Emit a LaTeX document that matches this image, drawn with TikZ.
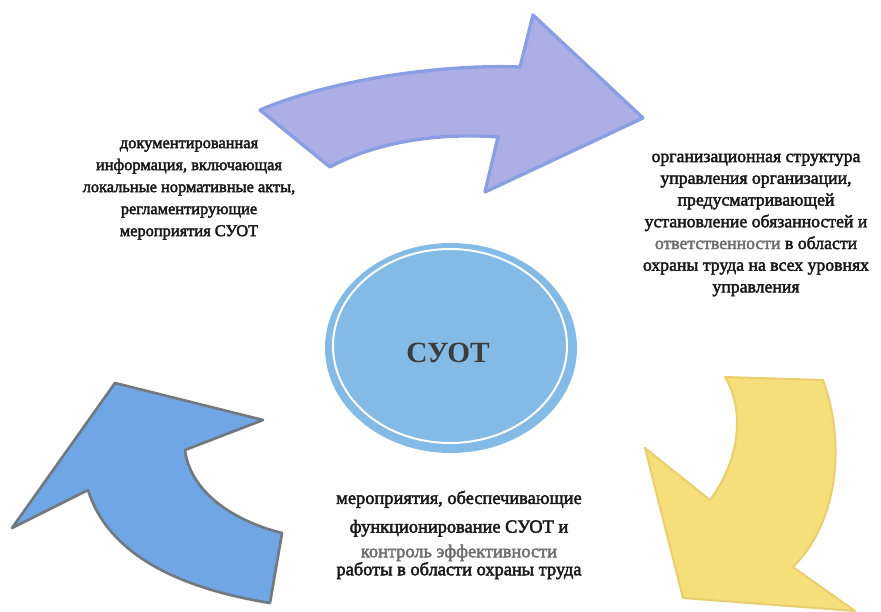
\documentclass[tikz,border=0pt]{standalone}
\usepackage{fontspec}
\setmainfont{Liberation Serif}
\newfontfamily\scanfont[FakeBold=2.5]{Liberation Serif}
\definecolor{lavfill}{RGB}{172,174,230}
\definecolor{lavline}{RGB}{138,158,226}
\definecolor{bluefill}{RGB}{112,166,230}
\definecolor{blueline}{RGB}{112,120,128}
\definecolor{yelfill}{RGB}{246,222,122}
\definecolor{yelline}{RGB}{232,206,110}
\definecolor{ellfill}{RGB}{132,186,230}
\definecolor{inktext}{RGB}{25,25,25}
\definecolor{fadetext}{RGB}{110,110,110}
\begin{document}
\begin{tikzpicture}[x=0.75pt,y=-0.75pt,
  arrowshape/.style={line join=round, line width=2.5pt},
  label/.style={align=center, text=inktext, inner sep=0pt, font=\scanfont}]
\useasboundingbox (0,0) rectangle (881,611);
\fill[white] (0,0) rectangle (881,611);

% top arrow
\draw[arrowshape, fill=lavfill, draw=lavline]
  (260,110) .. controls (330,80) and (440,64) .. (520,67) -- (533,15) -- (643,118)
  -- (485,192) -- (498,137) .. controls (430,132) and (370,145) .. (330,167) -- cycle;

% bottom-left arrow
\draw[arrowshape, fill=bluefill, draw=blueline, line width=2pt]
  (115,383) -- (263,420) -- (185,450) .. controls (190,490) and (230,520) .. (282,533)
  -- (270,603) .. controls (190,590) and (110,560) .. (88,490) -- (12,528) -- cycle;

% bottom-right arrow
\draw[arrowshape, fill=yelfill, draw=yelline, line width=1.5pt]
  (725,377) -- (823,380) .. controls (845,440) and (840,520) .. (793,567) -- (855,611)
  -- (683,598) -- (645,448) -- (710,500) .. controls (740,460) and (745,410) .. (725,377) -- cycle;

% central ellipse
\fill[ellfill] (451,348) ellipse [x radius=94.5pt, y radius=78.75pt];
\draw[white, line width=1.5pt] (450,346) ellipse [x radius=87.75pt, y radius=72.75pt];
\node[font=\bfseries\fontsize{22}{26}\selectfont, text={rgb,255:red,60;green,60;blue,60}] (suot) at (448,353) {СУОТ};

% texts
\node[label, font=\scanfont\fontsize{12.3}{16.5}\selectfont] (docs) at (189,190)
  {документированная\\информация, включающая\\локальные нормативные акты,\\регламентирующие\\мероприятия СУОТ};

\node[label, font=\scanfont\fontsize{13.3}{16.3}\selectfont] (org) at (756,225)
  {организационная структура\\управления организации,\\предусматривающей\\установление обязанностей и\\\textcolor{fadetext}{ответственности} в области\\охраны труда на всех уровнях\\управления};

\node[label, font=\scanfont\fontsize{13.8}{13.5}\selectfont] (meas) at (459,535)
  {мероприятия, обеспечивающие\\[8pt]функционирование СУОТ и\\[5pt]{\color{fadetext}контроль эффективности}\\работы в области охраны труда};
\end{tikzpicture}
\end{document}
